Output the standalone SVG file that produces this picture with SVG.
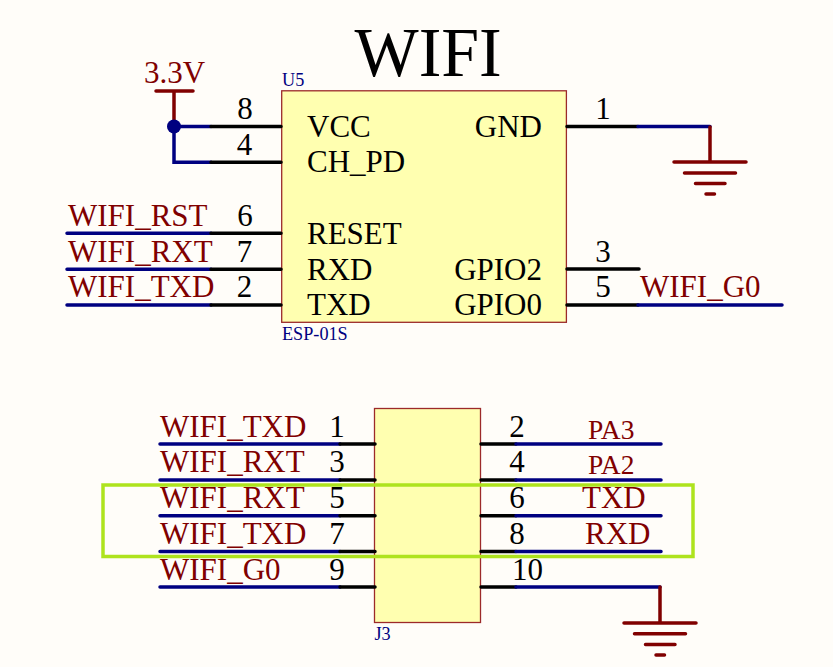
<svg xmlns="http://www.w3.org/2000/svg" width="833" height="667" viewBox="0 0 833 667">
<style>
text{font-family:"Liberation Serif","Times New Roman",serif}
.t{font-size:31px;fill:#000}
.n{font-size:31px;fill:#800000}
.s{font-size:27.500px;fill:#800000}
.d{font-size:18.200px;fill:#000080}
.box{fill:#ffffb0;stroke:#9c2a2a;stroke-width:1.3}
.pin{stroke:#000;stroke-width:3.500;fill:none;stroke-linecap:round}
.wire{stroke:#000080;stroke-width:3.500;fill:none;stroke-linecap:round}
.pow{stroke:#800000;stroke-width:3.500;fill:none;stroke-linecap:round}
</style>
<rect width="833" height="667" fill="#fffdf9"/>
<text id="title" transform="translate(354.500 75.500) scale(1 1.030)" style="font-size:68px" fill="#000">WIFI</text>
<g id="U5">
<rect class="box" x="281.700" y="90.800" width="284.700" height="231.500"/>
<text class="d" x="282" y="85.500">U5</text>
<text class="d" x="282" y="340">ESP-01S</text>
<text class="t" x="307" y="136.500">VCC</text>
<text class="t" x="307" y="172">CH_PD</text>
<text class="t" x="307" y="243.500">RESET</text>
<text class="t" x="307" y="279.500">RXD</text>
<text class="t" x="307" y="315">TXD</text>
<text class="t" x="542" y="136.500" text-anchor="end">GND</text>
<text class="t" x="542" y="279.500" text-anchor="end">GPIO2</text>
<text class="t" x="542" y="315" text-anchor="end">GPIO0</text>
</g>
<g id="J3">
<rect class="box" x="374.500" y="408.500" width="106" height="214"/>
<text class="d" x="374.500" y="640">J3</text>
</g>
<g id="net-labels">
<text class="n" x="144" y="83">3.3V</text>
<text class="n" x="68" y="226">WIFI_RST</text>
<text class="n" x="68" y="262">WIFI_RXT</text>
<text class="n" x="68" y="297">WIFI_TXD</text>
<text class="n" x="640" y="297">WIFI_G0</text>
<text class="n" x="160" y="437">WIFI_TXD</text>
<text class="n" x="160" y="472">WIFI_RXT</text>
<text class="n" x="160" y="508">WIFI_RXT</text>
<text class="n" x="160" y="544">WIFI_TXD</text>
<text class="n" x="160" y="580">WIFI_G0</text>
<text class="s" x="588" y="439">PA3</text>
<text class="s" x="588" y="474">PA2</text>
<text class="n" x="582" y="508">TXD</text>
<text class="n" x="585" y="544">RXD</text>
</g>
<g id="connectors">
<path class="pow" d="M174 126V91M156 91H193"/>
<path class="wire" d="M211 126.500H174V162.300H211M67 233.300H211M67 269.300H211M67 305H211"/>
<circle cx="174" cy="126.500" r="7" fill="#000080"/>
<path class="pin" d="M211 126.500H281M211 162.300H281M211 233.300H281M211 269.300H281M211 305H281"/>
<path class="pin" d="M567 126.500H638M567 269H639M567 305H638"/>
<path class="wire" d="M638 126.500H710M638 305H782"/>
<path class="pow" d="M710 127V162M674 162H746M684.500 173H735.500M695.500 183.500H725M706 194H714.500"/>
<path class="wire" d="M160 444H340M160 480H340M160 515.700H340M160 551.500H340M160 587H340"/>
<path class="pin" d="M340 444H375M340 480H375M340 515.700H375M340 551.500H375M340 587H375"/>
<path class="pin" d="M481 444H516M481 480H516M481 515.700H516M481 551.500H516M481 587H516"/>
<path class="wire" d="M516 444H661M516 480H661M516 515.700H661M516 551.500H661M516 587H660"/>
<path class="pow" d="M660 587V623M624 623H696M634.500 633.700H685.500M645.500 644.500H675M656 655H664.500"/>
</g>
<g id="pin-numbers">
<text class="t" x="245" y="119" text-anchor="middle">8</text>
<text class="t" x="244.500" y="155" text-anchor="middle">4</text>
<text class="t" x="245" y="226" text-anchor="middle">6</text>
<text class="t" x="244.500" y="262" text-anchor="middle">7</text>
<text class="t" x="244.500" y="297" text-anchor="middle">2</text>
<text class="t" x="603" y="119" text-anchor="middle">1</text>
<text class="t" x="603" y="262" text-anchor="middle">3</text>
<text class="t" x="603" y="297" text-anchor="middle">5</text>
<text class="t" x="337" y="437" text-anchor="middle">1</text>
<text class="t" x="337" y="472" text-anchor="middle">3</text>
<text class="t" x="337" y="508" text-anchor="middle">5</text>
<text class="t" x="337" y="544" text-anchor="middle">7</text>
<text class="t" x="337" y="580" text-anchor="middle">9</text>
<text class="t" x="517" y="437" text-anchor="middle">2</text>
<text class="t" x="517" y="472" text-anchor="middle">4</text>
<text class="t" x="517" y="508" text-anchor="middle">6</text>
<text class="t" x="517" y="544" text-anchor="middle">8</text>
<text class="t" x="512" y="580">10</text>
</g>
<rect id="highlight" x="103" y="485" width="590" height="71.500" fill="none" stroke="#aee31e" stroke-width="3.500"/>
</svg>
